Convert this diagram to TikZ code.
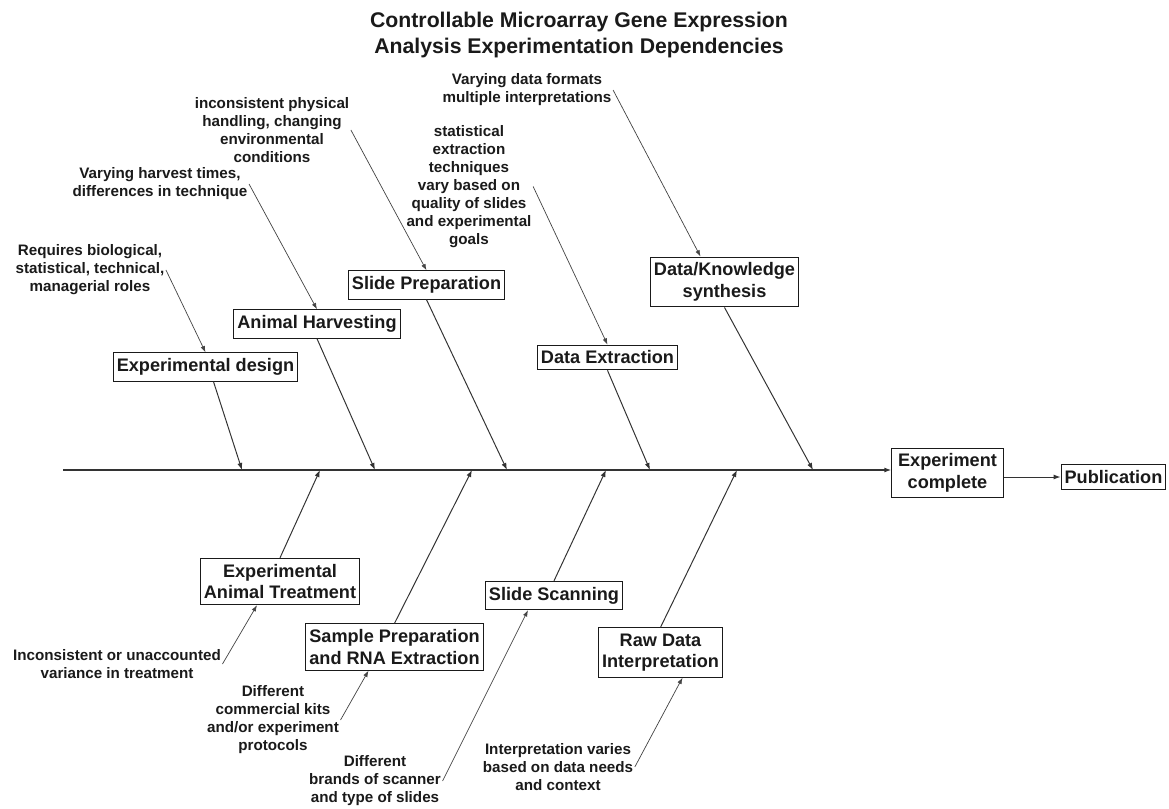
\documentclass[tikz,border=0pt]{standalone}
\usepackage{fontspec}
\setmainfont{Liberation Sans}
\usepackage{xcolor}
\usepackage{tikz}
\usetikzlibrary{arrows.meta}
\definecolor{inkBlack}{HTML}{1A1A1A}
\definecolor{lineGrey}{HTML}{333333}
\definecolor{noteGrey}{HTML}{444444}
\tikzset{
  fishbox/.style={rectangle, draw=inkBlack, line width=0.8pt, fill=white, align=center, font=\fontsize{12.9}{15.4}\selectfont\bfseries, text=inkBlack, inner xsep=2.5pt, inner ysep=4pt},
  causelabel/.style={align=center, font=\fontsize{10.8}{12.8}\selectfont\bfseries, text=inkBlack, inner sep=1pt},
  titlelabel/.style={align=center, font=\fontsize{15.1}{17.8}\selectfont\bfseries, text=inkBlack, inner sep=0pt},
  spineline/.style={-{Latex[length=5pt,width=3.6pt]}, line width=1.1pt, draw=lineGrey},
  ribarrow/.style={-{Latex[length=5pt,width=3.6pt]}, line width=0.7pt, draw=lineGrey},
  notearrow/.style={-{Latex[length=4.5pt,width=3.2pt]}, line width=0.5pt, draw=noteGrey},
}

\begin{document}
\begin{tikzpicture}[x=0.025cm,y=-0.025cm]
      \fill[white] (0,0) rectangle (1169,808);
      \useasboundingbox (0,0) rectangle (1169,808);

      \node[titlelabel] (title) at (579,35)
      {Controllable Microarray Gene Expression\\Analysis Experimentation Dependencies};

      % --- cause boxes above the spine ---
      \node[fishbox] (design) at (205.5,367) {Experimental design};
      \node[fishbox] (harvest) at (317,324) {Animal Harvesting};
      \node[fishbox] (slideprep) at (426.5,285) {Slide Preparation};
      \node[fishbox] (extract) at (607.5,357.5) {Data Extraction};
      \node[fishbox] (synth) at (724.5,282) {Data/Knowledge\\synthesis};

      % --- cause boxes below the spine ---
      \node[fishbox] (treat) at (280,581.5) {Experimental\\Animal Treatment};
      \node[fishbox] (sample) at (394.5,647) {Sample Preparation\\and RNA Extraction};
      \node[fishbox] (scan) at (554,595.5) {Slide Scanning};
      \node[fishbox] (rawdata) at (660.5,652.5) {Raw Data\\Interpretation};

      \node[fishbox, minimum width=2.78cm] (done) at (947.5,473) {Experiment\\complete};
      \node[fishbox] (publish) at (1113.5,477) {Publication};

      % --- notes ---
      \node[causelabel] (rolesnote) at (90,270)
      {Requires biological,\\statistical, technical,\\managerial roles};
      \node[causelabel] (harvestnote) at (160,184)
      {Varying harvest times,\\differences in technique};
      \node[causelabel] (handlenote) at (272,130)
      {inconsistent physical\\handling, changing\\environmental\\conditions};
      \node[causelabel] (statnote) at (469,186.5)
      {statistical\\extraction\\techniques\\vary based on\\quality of slides\\and experimental\\goals};
      \node[causelabel] (formatnote) at (527,90)
      {Varying data formats\\multiple interpretations};
      \node[causelabel] (treatnote) at (117,664)
      {Inconsistent or unaccounted\\variance in treatment};
      \node[causelabel] (kitnote) at (273,720)
      {Different\\commercial kits\\and/or experiment\\protocols};
      \node[causelabel] (scannote) at (375,781)
      {Different\\brands of scanner\\and type of slides};
      \node[causelabel] (interpnote) at (558,767)
      {Interpretation varies\\based on data needs\\and context};

      % --- points on the spine ---
      \coordinate (tail) at (63,470);
      \coordinate (u1) at (242,470);
      \coordinate (u2) at (375,470);
      \coordinate (u3) at (507,470);
      \coordinate (u4) at (650,470);
      \coordinate (u5) at (813,470);
      \coordinate (l1) at (320,470);
      \coordinate (l2) at (472,470);
      \coordinate (l3) at (606,470);
      \coordinate (l4) at (737,470);

      \draw[spineline] (tail) -- (tail -| done.west);
      \draw[ribarrow] (done.east |- publish.west) -- (publish.west);

      \draw[ribarrow] ([xshift=0.2cm]design.south) -- (u1);
      \draw[ribarrow] (harvest.south) -- (u2);
      \draw[ribarrow] (slideprep.south) -- (u3);
      \draw[ribarrow] (extract.south) -- (u4);
      \draw[ribarrow] (synth.south) -- (u5);
      \draw[ribarrow] (treat.north) -- (l1);
      \draw[ribarrow] (sample.north) -- (l2);
      \draw[ribarrow] (scan.north) -- (l3);
      \draw[ribarrow] (rawdata.north) -- (l4);

      \draw[notearrow] (rolesnote.east) -- (design.north);
      \draw[notearrow] (harvestnote.east) -- (harvest.north);
      \draw[notearrow] (handlenote.east) -- (slideprep.north);
      \draw[notearrow] (statnote.east) -- (extract.north);
      \draw[notearrow] (formatnote.east) -- ([xshift=-0.6cm]synth.north);
      \draw[notearrow] (treatnote.east) -- ([xshift=-0.575cm]treat.south);
      \draw[notearrow] (kitnote.east) -- ([xshift=-0.65cm]sample.south);
      \draw[notearrow] (scannote.east) -- ([xshift=-0.65cm]scan.south);
      \draw[notearrow] (interpnote.east) -- ([xshift=0.55cm]rawdata.south);
    \end{tikzpicture}
\end{document}
